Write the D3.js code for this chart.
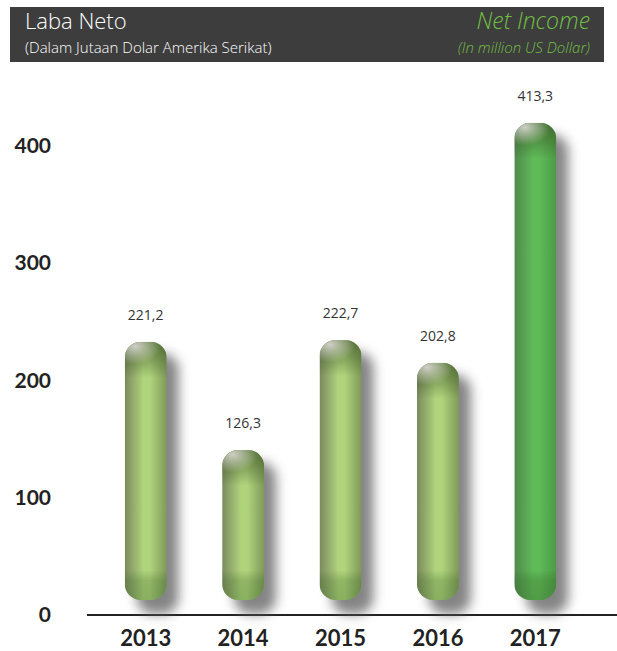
<!DOCTYPE html>
<html>
<head>
<meta charset="utf-8">
<script src="https://cdn.jsdelivr.net/npm/d3@7"></script>
<style>
  body { margin: 0; background: #fff; }
  svg { display: block; font-family: "Open Sans", Lato, sans-serif; }
</style>
</head>
<body>
<svg id="chart"></svg>
<script>
const years = ["2013", "2014", "2015", "2016", "2017"];
const netIncome = [221.2, 126.3, 222.7, 202.8, 413.3];
const valueLabels = ["221,2", "126,3", "222,7", "202,8", "413,3"];
const yTicks = [0, 100, 200, 300, 400];

const W = 617, H = 651;
const svg = d3.select("#chart").attr("width", W).attr("height", H);
const defs = svg.append("defs");

// header band
svg.append("rect").attr("x", 10).attr("y", 7).attr("width", 594).attr("height", 55).attr("fill", "#3d3d3d");
svg.append("text").attr("x", 25).attr("y", 29).attr("fill", "#fff").attr("font-size", 22).attr("font-weight", 300).text("Laba Neto");
svg.append("text").attr("x", 25).attr("y", 53).attr("fill", "#fff").attr("font-size", 15).attr("font-weight", 300).text("(Dalam Jutaan Dolar Amerika Serikat)");
svg.append("text").attr("x", 590).attr("y", 29).attr("text-anchor", "end").attr("fill", "#72bf44")
  .attr("font-size", 23).attr("font-weight", 300).attr("font-style", "italic").text("Net Income");
svg.append("text").attr("x", 590).attr("y", 53).attr("text-anchor", "end").attr("fill", "#72bf44")
  .attr("font-size", 15).attr("font-weight", 300).attr("font-style", "italic").text("(In million US Dollar)");

// scales
const x = d3.scaleBand().domain(years).range([97, 584]).paddingInner(0.57).paddingOuter(0.285);
const y = d3.scaleLinear().domain([0, 400]).range([615, 146]);
// bars sit a little above the baseline
const barY = d3.scaleLinear().domain([0, 400]).range([594, 138]);
const barBase = 600;

// axis line
svg.append("line").attr("x1", 87).attr("x2", W).attr("y1", y(0)).attr("y2", y(0))
  .attr("stroke", "#222").attr("stroke-width", 2);

// y tick labels
svg.selectAll(".ytick").data(yTicks).enter().append("text")
  .attr("x", 51).attr("y", d => y(d) + 7).attr("text-anchor", "end")
  .attr("font-family", "Lato, sans-serif")
  .attr("font-size", 21).attr("font-weight", "bold").attr("fill", "#222")
  .text(d => d);

// year labels
svg.selectAll(".year").data(years).enter().append("text")
  .attr("x", d => x(d) + x.bandwidth() / 2).attr("y", 646).attr("text-anchor", "middle")
  .attr("font-family", "Lato, sans-serif")
  .attr("font-size", 22).attr("font-weight", "bold").attr("fill", "#222")
  .text(d => d);

// gradients
function hGrad(id, edgeL, mid, edgeR) {
  const g = defs.append("linearGradient").attr("id", id).attr("x1", 0).attr("x2", 1).attr("y1", 0).attr("y2", 0);
  g.append("stop").attr("offset", "0%").attr("stop-color", edgeL);
  g.append("stop").attr("offset", "45%").attr("stop-color", mid);
  g.append("stop").attr("offset", "60%").attr("stop-color", mid);
  g.append("stop").attr("offset", "100%").attr("stop-color", edgeR);
}
hGrad("bodyLight", "#7b8a5e", "#b0d47c", "#7f9a58");
hGrad("bodyGreen", "#4f8a4c", "#5fba58", "#4c9a46");

const capG = defs.append("linearGradient").attr("id", "cap").attr("x1", 0).attr("x2", 0).attr("y1", 0).attr("y2", 1);
capG.append("stop").attr("offset", "0%").attr("stop-color", "#3a5424").attr("stop-opacity", 0.7);
capG.append("stop").attr("offset", "60%").attr("stop-color", "#3a5424").attr("stop-opacity", 0.3);
capG.append("stop").attr("offset", "100%").attr("stop-color", "#3a5424").attr("stop-opacity", 0);

const hl = defs.append("radialGradient").attr("id", "hl").attr("cx", "25%").attr("cy", "15%").attr("r", "60%");
hl.append("stop").attr("offset", "0%").attr("stop-color", "#d4d4cc").attr("stop-opacity", 0.95);
hl.append("stop").attr("offset", "100%").attr("stop-color", "#d4d4cc").attr("stop-opacity", 0);

const botG = defs.append("linearGradient").attr("id", "bot").attr("x1", 0).attr("x2", 0).attr("y1", 0).attr("y2", 1);
botG.append("stop").attr("offset", "0%").attr("stop-color", "#2f5a1f").attr("stop-opacity", 0);
botG.append("stop").attr("offset", "35%").attr("stop-color", "#2f5a1f").attr("stop-opacity", 0.25);
botG.append("stop").attr("offset", "100%").attr("stop-color", "#2f5a1f").attr("stop-opacity", 0.3);

const blur = defs.append("filter").attr("id", "shadow").attr("x", "-50%").attr("y", "-20%").attr("width", "200%").attr("height", "140%");
blur.append("feGaussianBlur").attr("stdDeviation", 6);

const rx = 16;
const bars = svg.selectAll(".bar").data(years).enter().append("g");

// shadow
bars.append("rect")
  .attr("x", d => x(d) + 12).attr("y", (d, i) => barY(netIncome[i]) + 12)
  .attr("width", x.bandwidth()).attr("height", (d, i) => barBase - barY(netIncome[i]) + 2)
  .attr("rx", rx).attr("fill", "#666").attr("opacity", 0.8).attr("filter", "url(#shadow)");

bars.each(function(d, i) {
  const g = d3.select(this);
  const bx = x(d), bw = x.bandwidth(), top = barY(netIncome[i]), h = barBase - top;
  defs.append("clipPath").attr("id", "clip" + i)
    .append("rect").attr("x", bx).attr("y", top).attr("width", bw).attr("height", h).attr("rx", rx);
  const inner = g.append("g").attr("clip-path", `url(#clip${i})`);
  inner.append("rect").attr("x", bx).attr("y", top).attr("width", bw).attr("height", h)
    .attr("fill", d === "2017" ? "url(#bodyGreen)" : "url(#bodyLight)");
  inner.append("rect").attr("x", bx).attr("y", top).attr("width", bw).attr("height", 36).attr("fill", "url(#cap)");
  inner.append("rect").attr("x", bx).attr("y", top).attr("width", bw).attr("height", 30).attr("fill", "url(#hl)");
  inner.append("rect").attr("x", bx).attr("y", barBase - 30).attr("width", bw).attr("height", 30).attr("fill", "url(#bot)");
});

// value labels
svg.selectAll(".val").data(years).enter().append("text")
  .attr("x", d => x(d) + x.bandwidth() / 2).attr("y", (d, i) => barY(netIncome[i]) - 22)
  .attr("text-anchor", "middle").attr("font-size", 14).attr("fill", "#333")
  .text((d, i) => valueLabels[i]);
</script>
</body>
</html>
